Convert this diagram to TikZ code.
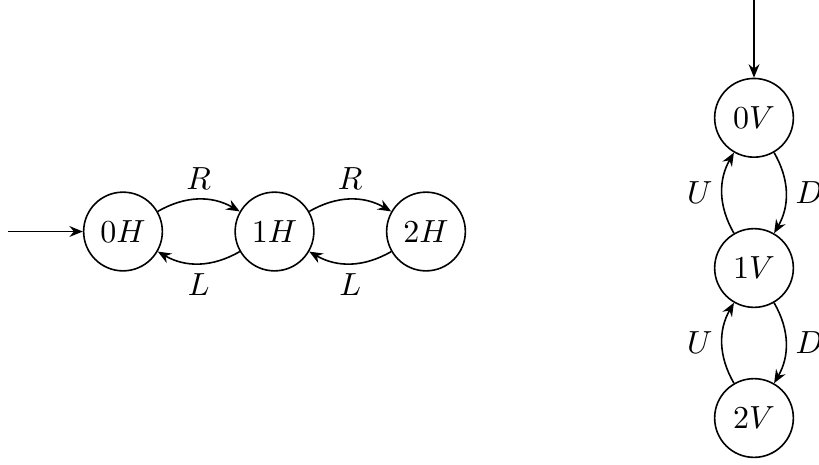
\documentclass[tikz,border=0pt]{standalone}
\usetikzlibrary{arrows.meta}
\begin{document}
\begin{tikzpicture}[x=0.3125pt,y=-0.3125pt,
  stnode/.style={draw,circle,minimum size=24.6pt,inner sep=0pt,line width=0.5pt},
  edge/.style={-{Stealth[length=4.2pt,width=3.4pt,inset=1.4pt]},line width=0.5pt},
  lbl/.style={auto,inner sep=2.8pt}]
\useasboundingbox (0,0) rectangle (819,464);
\node[stnode] (h0) at (123,231.5) {$0H$};
\node[stnode] (h1) at (274.5,231.5) {$1H$};
\node[stnode] (h2) at (426,231.5) {$2H$};
\node[stnode] (v0) at (754,117.8) {$0V$};
\node[stnode] (v1) at (754,268) {$1V$};
\node[stnode] (v2) at (754,418) {$2V$};
\coordinate (ih) at (8,231.5);
\coordinate (iv) at (754,0);
\draw[edge] (ih) -- (h0);
\draw[edge] (iv) -- (v0);
\draw[edge] (h0) to[bend left=30] node[lbl] {$R$} (h1);
\draw[edge] (h1) to[bend left=30] node[lbl] {$L$} (h0);
\draw[edge] (h1) to[bend left=30] node[lbl] {$R$} (h2);
\draw[edge] (h2) to[bend left=30] node[lbl] {$L$} (h1);
\draw[edge] (v0) to[bend left=30] node[lbl] {$D$} (v1);
\draw[edge] (v1) to[bend left=30] node[lbl] {$U$} (v0);
\draw[edge] (v1) to[bend left=30] node[lbl] {$D$} (v2);
\draw[edge] (v2) to[bend left=30] node[lbl] {$U$} (v1);
\end{tikzpicture}
\end{document}
